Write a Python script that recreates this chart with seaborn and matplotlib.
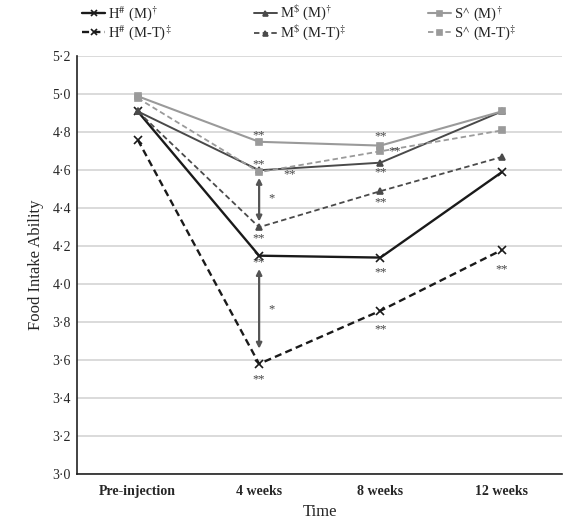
import matplotlib
matplotlib.use("Agg")
import matplotlib.pyplot as plt
import seaborn as sns
import pandas as pd

# Time points and mean food intake ability scores per group
times = ["Pre-injection", "4 weeks", "8 weeks", "12 weeks"]
h_m = [4.91, 4.15, 4.14, 4.59]
h_mt = [4.76, 3.58, 3.86, 4.18]
m_m = [4.91, 4.60, 4.64, 4.91]
m_mt = [4.91, 4.30, 4.49, 4.67]
s_m = [4.99, 4.75, 4.73, 4.91]
s_mt = [4.98, 4.59, 4.70, 4.81]
y_ticks = [3.0, 3.2, 3.4, 3.6, 3.8, 4.0, 4.2, 4.4, 4.6, 4.8, 5.0, 5.2]

sns.set_theme(style="white")
plt.rcParams["font.family"] = ["Liberation Serif", "DejaVu Serif"]
plt.rcParams["mathtext.fontset"] = "stix"

# ordered so the 3-column legend reads row by row: (M) on top, (M-T) below
series = [
    (r"H$^{\#}$ (M)$^{\dagger}$", h_m, "#1a1a1a", "x", "-", 1.7, 5.5),
    (r"H$^{\#}$ (M-T)$^{\ddagger}$", h_mt, "#1a1a1a", "x", "--", 1.7, 5.5),
    (r"M$^{\$}$ (M)$^{\dagger}$", m_m, "#4a4a4a", "^", "-", 1.4, 4.5),
    (r"M$^{\$}$ (M-T)$^{\ddagger}$", m_mt, "#4a4a4a", "^", "--", 1.3, 4.5),
    (r"S$^{\wedge}$ (M)$^{\dagger}$", s_m, "#9a9a9a", "s", "-", 1.5, 4.5),
    (r"S$^{\wedge}$ (M-T)$^{\ddagger}$", s_mt, "#9a9a9a", "s", "--", 1.3, 4.5),
]

fig = plt.figure(figsize=(5.63, 5.22), dpi=100)
ax = fig.add_axes([0.137, 0.092, 0.862, 0.800])

for label, vals, color, marker, ls, lw, ms in series:
    df = pd.DataFrame({"Time": times, "score": vals})
    sns.lineplot(data=df, x="Time", y="score", ax=ax, color=color,
                 marker=marker, markersize=ms, markeredgecolor=color,
                 markerfacecolor=color, markeredgewidth=1.2,
                 linestyle=ls, linewidth=lw, label=label, sort=False,
                 dashes=False)
    if ls == "--":
        ax.lines[-1].set_dashes((3, 1.8))

ax.set_xlim(-0.5, 3.5)
ax.set_ylim(3.0, 5.2)
ax.set_yticks(y_ticks)
ax.set_yticklabels([f"{v:.1f}".replace(".", "·") for v in y_ticks], fontsize=10)
ax.set_xticks(range(len(times)))
ax.set_xticklabels(times, fontsize=10, fontweight="bold")
ax.tick_params(axis="x", which="major", length=0, pad=8)
ax.set_xticks([-0.5, 0.5, 1.5, 2.5, 3.5], minor=True)
ax.tick_params(axis="x", which="minor", length=4, width=1, color="#222", direction="inout")
ax.tick_params(axis="y", length=5, width=1, color="#222", direction="inout", pad=2)
ax.yaxis.grid(True, color="#d4d4d4", linewidth=1.2)
ax.set_axisbelow(True)
for side in ["top", "right"]:
    ax.spines[side].set_visible(False)
for side in ["left", "bottom"]:
    ax.spines[side].set_color("#222")
    ax.spines[side].set_linewidth(1.2)
ax.set_xlabel("Time", fontsize=12, labelpad=4)
ax.set_ylabel("Food Intake Ability", fontsize=12, labelpad=6)

# significance markers
star_kw = dict(fontsize=9, color="#444", ha="center", va="center")
ax.text(1, s_m[1] + 0.035, "**", **star_kw)
ax.text(1, m_m[1] + 0.03, "**", **star_kw)
ax.text(1.25, m_m[1] - 0.02, "**", **star_kw)
ax.text(1.1, (m_m[1] + m_mt[1]) / 2, "*", **star_kw)
ax.text(1, m_mt[1] - 0.06, "**", **star_kw)
ax.text(1, h_m[1] - 0.035, "**", **star_kw)
ax.text(1.1, (h_m[1] + h_mt[1]) / 2, "*", **star_kw)
ax.text(1, h_mt[1] - 0.08, "**", **star_kw)
ax.text(2, s_m[2] + 0.05, "**", **star_kw)
ax.text(2.12, s_mt[2], "**", **star_kw)
ax.text(2, m_m[2] - 0.05, "**", **star_kw)
ax.text(2, m_mt[2] - 0.06, "**", **star_kw)
ax.text(2, h_m[2] - 0.08, "**", **star_kw)
ax.text(2, h_mt[2] - 0.1, "**", **star_kw)
ax.text(3, h_mt[3] - 0.1, "**", **star_kw)

arrow_kw = dict(arrowstyle="<|-|>", color="#555", lw=1.6, mutation_scale=8,
                shrinkA=0, shrinkB=0)
ax.annotate("", xy=(1, m_mt[1] + 0.03), xytext=(1, m_m[1] - 0.04), arrowprops=arrow_kw)
ax.annotate("", xy=(1, h_mt[1] + 0.08), xytext=(1, h_m[1] - 0.07), arrowprops=arrow_kw)

handles, labels = ax.get_legend_handles_labels()
ax.get_legend().remove()
fig.legend(handles, labels, ncol=3, loc="upper left",
           bbox_to_anchor=(82 / 563, 1 - 3 / 522), frameon=False, fontsize=10.5,
           handlelength=1.6, handletextpad=0.2, columnspacing=5.6,
           labelspacing=0.0, borderaxespad=0, borderpad=0, markerscale=0.8)

fig.savefig("out.png", dpi=100)
